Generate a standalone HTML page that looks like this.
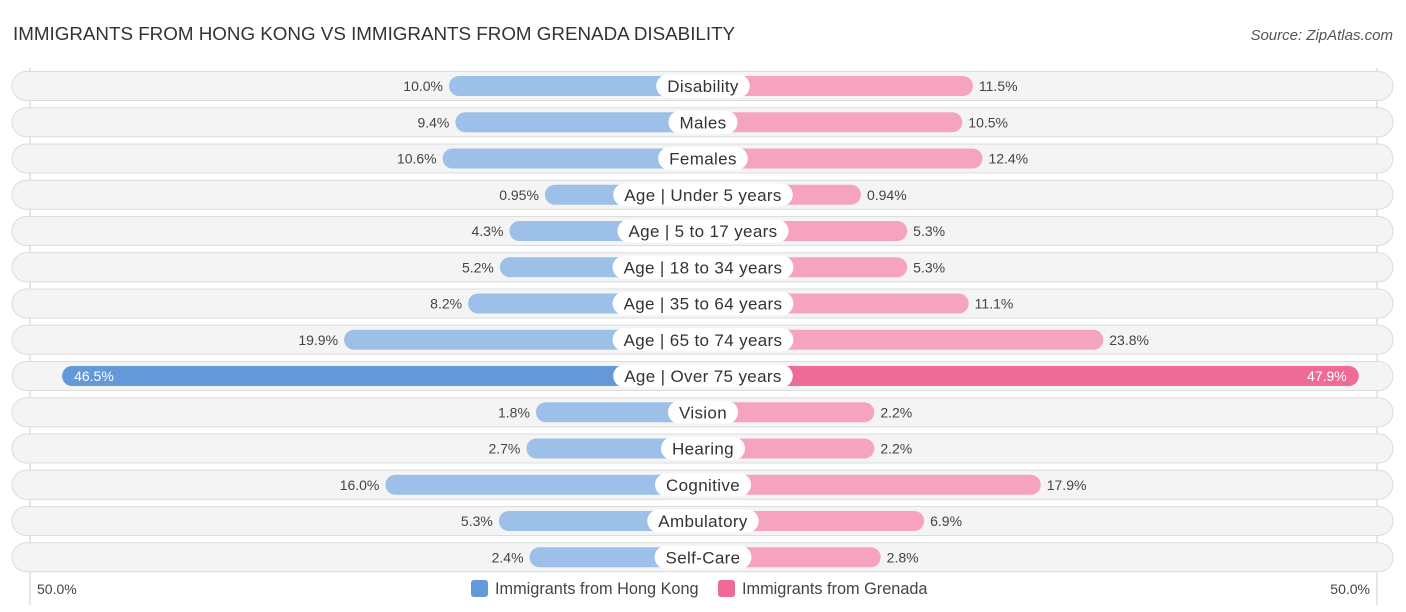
<!DOCTYPE html>
<html><head><meta charset="utf-8"><style>
body{margin:0;background:#fff;font-family:"Liberation Sans",sans-serif;}
svg{display:block}
</style></head><body>
<svg id="c" width="1406" height="612" xmlns="http://www.w3.org/2000/svg">
<text x="13" y="40" font-size="18.8" fill="#333">IMMIGRANTS FROM HONG KONG VS IMMIGRANTS FROM GRENADA DISABILITY</text>
<text x="1393" y="40" font-size="15" fill="#555" font-style="italic" text-anchor="end">Source: ZipAtlas.com</text>
<line x1="30" y1="68" x2="30" y2="605" stroke="#ccc" stroke-width="1"/>
<line x1="1377" y1="68" x2="1377" y2="605" stroke="#ccc" stroke-width="1"/>
<g id="rows"></g>
<text x="37" y="594" font-size="14" fill="#444">50.0%</text>
<text x="1370" y="594" font-size="14" fill="#444" text-anchor="end">50.0%</text>
<g>
<rect x="471" y="580" width="17" height="17" rx="3" fill="#6399d9"/>
<text x="495" y="594" font-size="16.3" fill="#444">Immigrants from Hong Kong</text>
<rect x="718" y="580" width="17" height="17" rx="3" fill="#ef6b97"/>
<text x="742" y="594" font-size="16.3" fill="#444">Immigrants from Grenada</text>
</g>
</svg>
<script>
const categories=["Disability","Males","Females","Age | Under 5 years","Age | 5 to 17 years","Age | 18 to 34 years","Age | 35 to 64 years","Age | 65 to 74 years","Age | Over 75 years","Vision","Hearing","Cognitive","Ambulatory","Self-Care"];
const hongKong=[10.0,9.4,10.6,0.95,4.3,5.2,8.2,19.9,46.5,1.8,2.7,16.0,5.3,2.4];
const grenada=[11.5,10.5,12.4,0.94,5.3,5.3,11.1,23.8,47.9,2.2,2.2,17.9,6.9,2.8];
const hkLabels=["10.0%","9.4%","10.6%","0.95%","4.3%","5.2%","8.2%","19.9%","46.5%","1.8%","2.7%","16.0%","5.3%","2.4%"];
const grLabels=["11.5%","10.5%","12.4%","0.94%","5.3%","5.3%","11.1%","23.8%","47.9%","2.2%","2.2%","17.9%","6.9%","2.8%"];
const NS="http://www.w3.org/2000/svg";
const cx=703;
function barLen(v){return 148+10.6*v;}
function rowY(i){return 86+i*36.25;}
const g=document.getElementById('rows');
function mk(t,a){const e=document.createElementNS(NS,t);for(const k in a)e.setAttribute(k,a[k]);return e;}
categories.forEach((cat,i)=>{
  const y=rowY(i);
  const strong=Math.max(hongKong[i],grenada[i])>30;
  const bg=mk('rect',{x:12,y:y-14.5,width:1381,height:29,rx:14.5,fill:'#f4f4f4',stroke:'#dcdcdc'});
  
  
  g.appendChild(bg);
  const lh=barLen(hongKong[i]);
  const b1=mk('rect',{x:cx-lh,y:y-10,width:lh,height:20,rx:10,fill:strong?'#6399d9':'#9dc0e8'});
  
  
  g.appendChild(b1);
  const lg=barLen(grenada[i]);
  const b2=mk('rect',{x:cx,y:y-10,width:lg,height:20,rx:10,fill:strong?'#ef6b97':'#f5a3bf'});
  
  
  g.appendChild(b2);
  const t1=mk('text',{y:y+5,'font-size':14});
  if(strong){t1.setAttribute('x',cx-lh+12);t1.setAttribute('fill','#fff');}
  else{t1.setAttribute('x',cx-lh-6);t1.setAttribute('text-anchor','end');t1.setAttribute('fill','#444');}
  t1.textContent=hkLabels[i];
  
  
  g.appendChild(t1);
  const t2=mk('text',{y:y+5,'font-size':14});
  if(strong){t2.setAttribute('x',cx+lg-12);t2.setAttribute('text-anchor','end');t2.setAttribute('fill','#fff');}
  else{t2.setAttribute('x',cx+lg+6);t2.setAttribute('fill','#444');}
  t2.textContent=grLabels[i];
  
  
  g.appendChild(t2);
  const lbl=mk('text',{x:cx,y:y+6,'font-size':17,'letter-spacing':0.35,'text-anchor':'middle',fill:'#333'});
  lbl.textContent=cat;
  
  
  g.appendChild(lbl);
  const w=lbl.getComputedTextLength()+22;
  const pill=mk('rect',{x:cx-w/2,y:y-11.5,width:w,height:23,rx:11.5,fill:'#fff'});
  
  
  g.insertBefore(pill,lbl);
});
</script>
</body></html>
